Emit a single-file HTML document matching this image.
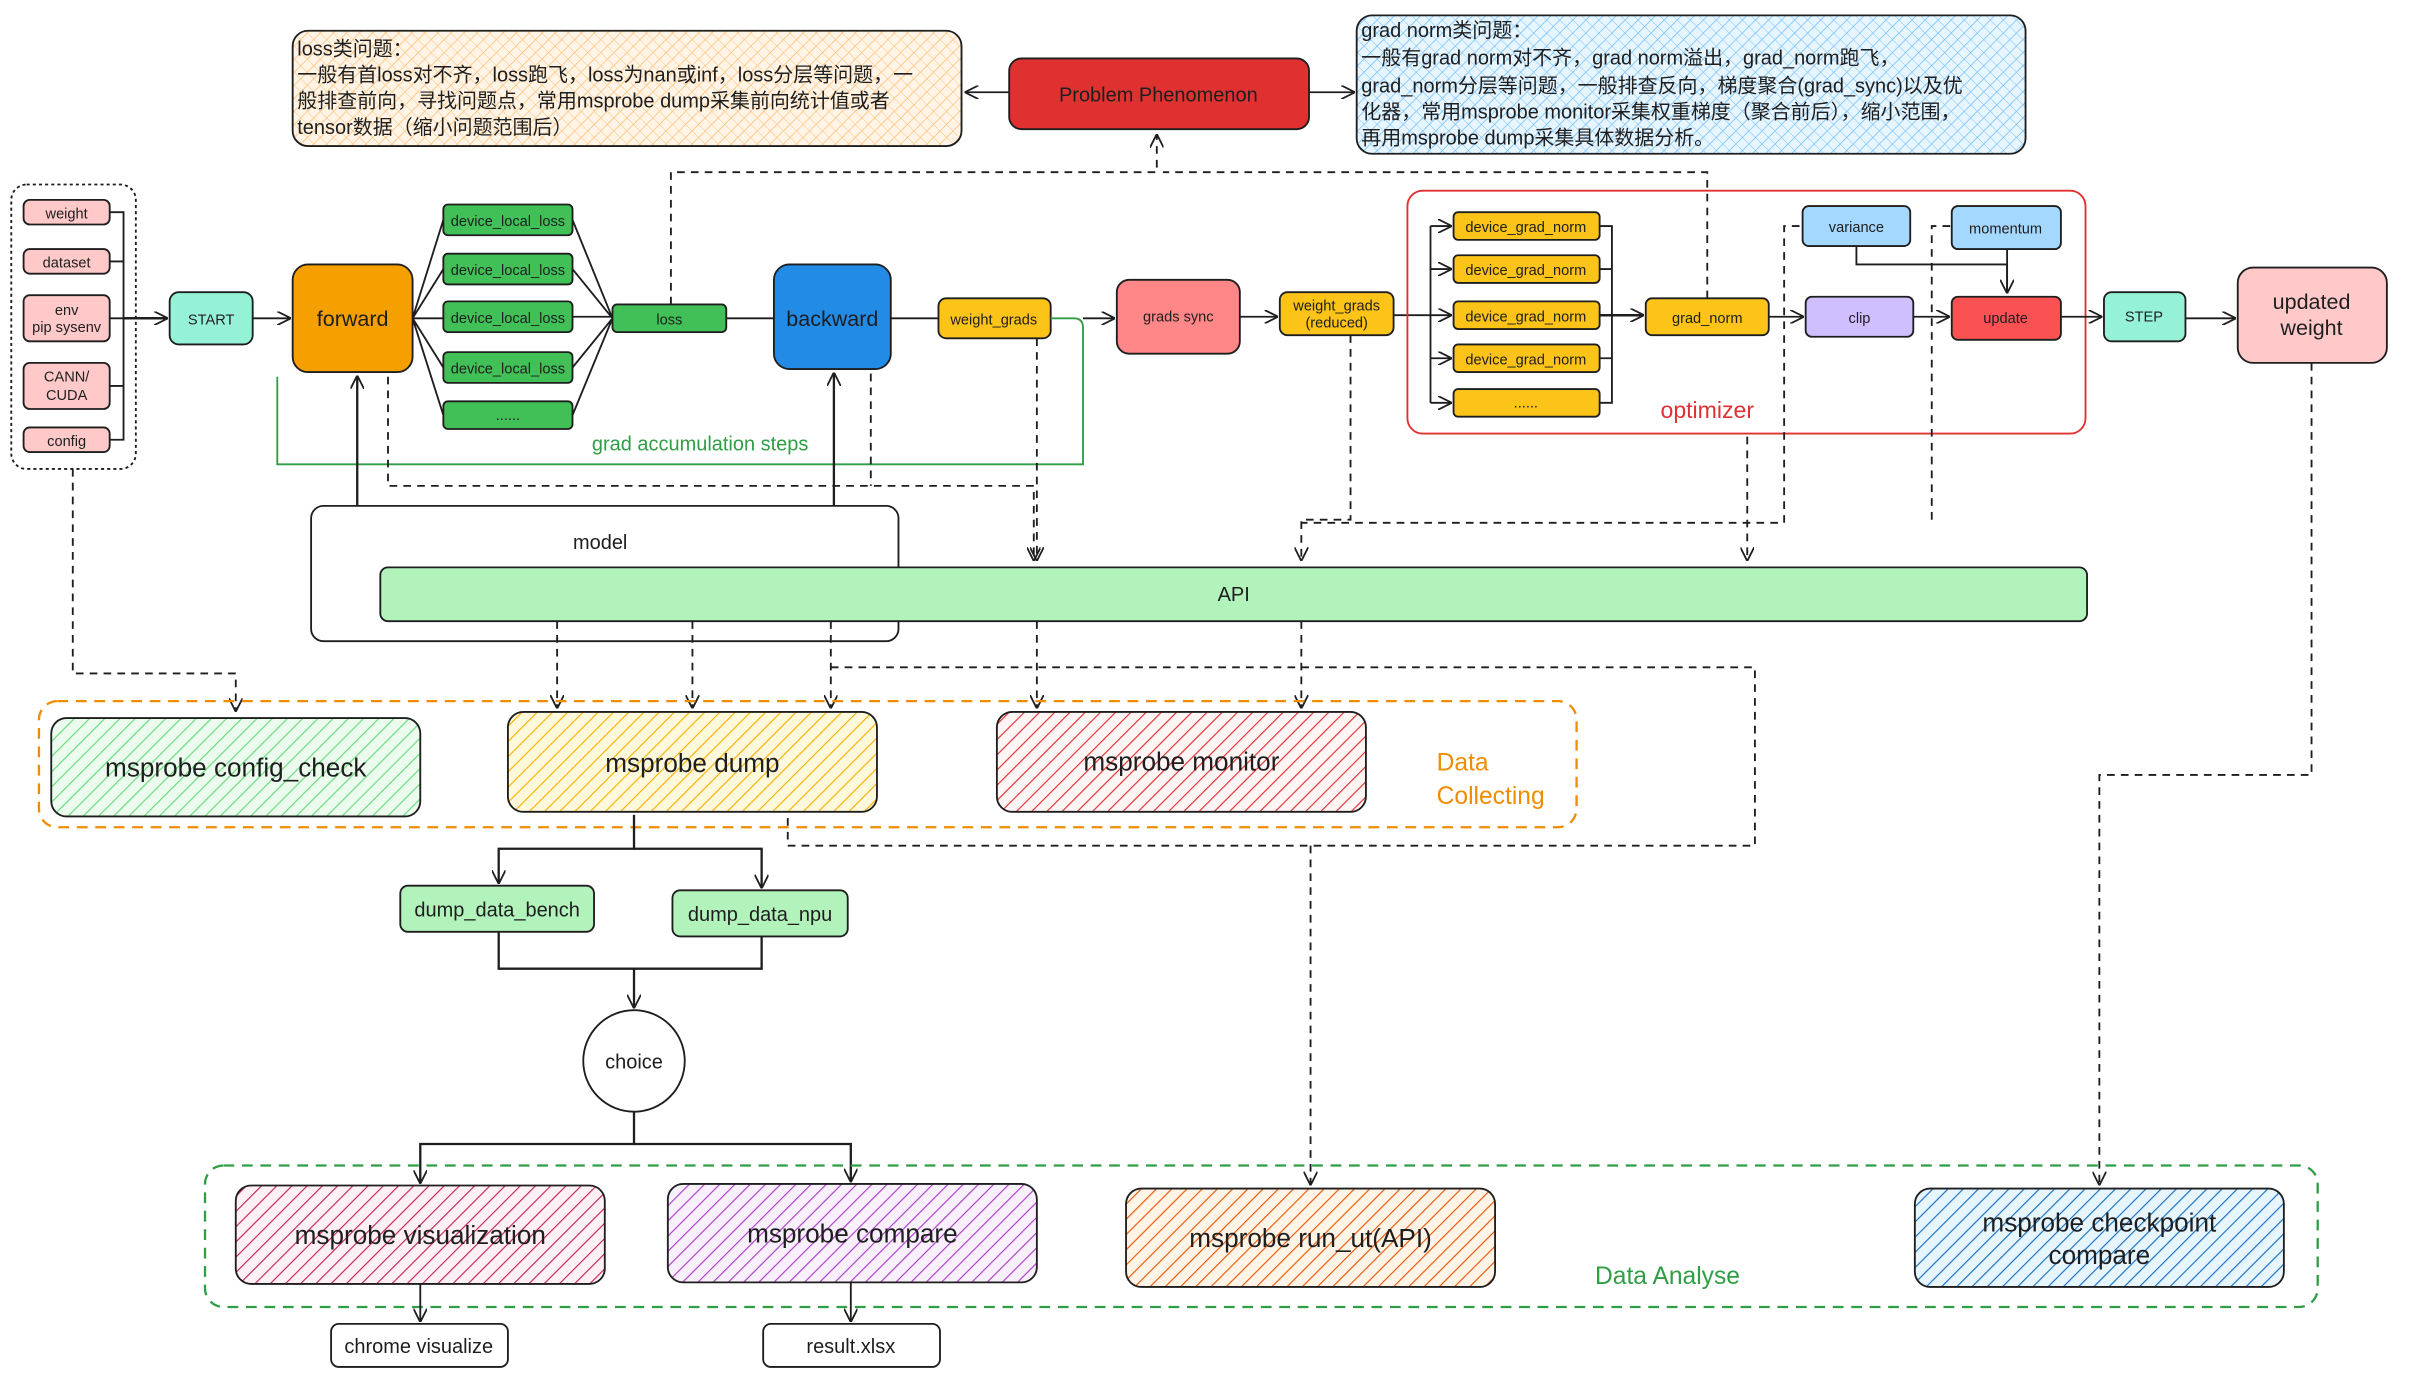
<!DOCTYPE html>
<html><head><meta charset="utf-8"><style>
html,body{margin:0;padding:0;background:#fff}
svg{display:block}
text{font-family:"Liberation Sans","Noto Sans CJK SC",sans-serif;fill:#1e1e1e}
</style></head><body>
<svg width="2412" height="1390" viewBox="0 0 1568 904" xmlns="http://www.w3.org/2000/svg">
<defs>
<pattern id="hOr" width="6" height="6" patternUnits="userSpaceOnUse" patternTransform="rotate(45)"><rect width="6" height="6" fill="#fff4e6"/><line x1="0" y1="0" x2="0" y2="6" stroke="#ffc078" stroke-width="1"/><line x1="0" y1="0" x2="6" y2="0" stroke="#ffc078" stroke-width="0.6"/></pattern>
<pattern id="hBl" width="6" height="6" patternUnits="userSpaceOnUse" patternTransform="rotate(45)"><rect width="6" height="6" fill="#e7f5ff"/><line x1="0" y1="0" x2="0" y2="6" stroke="#74c0fc" stroke-width="1"/><line x1="0" y1="0" x2="6" y2="0" stroke="#74c0fc" stroke-width="0.6"/></pattern>
<pattern id="hG" width="7" height="7" patternUnits="userSpaceOnUse" patternTransform="rotate(45)"><rect width="7" height="7" fill="#ebfbee"/><line x1="0" y1="0" x2="0" y2="7" stroke="#69db7c" stroke-width="1.5"/></pattern>
<pattern id="hY" width="7" height="7" patternUnits="userSpaceOnUse" patternTransform="rotate(45)"><rect width="7" height="7" fill="#fff9db"/><line x1="0" y1="0" x2="0" y2="7" stroke="#fab005" stroke-width="1.5"/></pattern>
<pattern id="hR" width="7" height="7" patternUnits="userSpaceOnUse" patternTransform="rotate(45)"><rect width="7" height="7" fill="#fff5f5"/><line x1="0" y1="0" x2="0" y2="7" stroke="#e03131" stroke-width="1.5"/></pattern>
<pattern id="hP" width="7" height="7" patternUnits="userSpaceOnUse" patternTransform="rotate(45)"><rect width="7" height="7" fill="#fff0f6"/><line x1="0" y1="0" x2="0" y2="7" stroke="#c2255c" stroke-width="1.5"/></pattern>
<pattern id="hV" width="7" height="7" patternUnits="userSpaceOnUse" patternTransform="rotate(45)"><rect width="7" height="7" fill="#f8f0fc"/><line x1="0" y1="0" x2="0" y2="7" stroke="#ae3ec9" stroke-width="1.5"/></pattern>
<pattern id="hO2" width="7" height="7" patternUnits="userSpaceOnUse" patternTransform="rotate(45)"><rect width="7" height="7" fill="#fff4e6"/><line x1="0" y1="0" x2="0" y2="7" stroke="#e8590c" stroke-width="1.5"/></pattern>
<pattern id="hB2" width="7" height="7" patternUnits="userSpaceOnUse" patternTransform="rotate(45)"><rect width="7" height="7" fill="#e7f5ff"/><line x1="0" y1="0" x2="0" y2="7" stroke="#1971c2" stroke-width="1.5"/></pattern>
<marker id="a" viewBox="0 0 10 10" refX="9" refY="5" markerWidth="9" markerHeight="9" orient="auto-start-reverse" markerUnits="userSpaceOnUse"><path d="M0,0 L10,5 L0,10" fill="none" stroke="#1e1e1e" stroke-width="1.3"/></marker>
</defs>
<g stroke="#1e1e1e" stroke-width="1.2" fill="none">
<rect x="190" y="20" width="435" height="75" rx="10" fill="url(#hOr)"/>
<rect x="656" y="38" width="195" height="46" rx="8" fill="#e03131"/>
<rect x="882" y="10" width="435" height="90" rx="10" fill="url(#hBl)"/>
<path d="M656,60 H628" marker-end="url(#a)"/>
<path d="M851,60 H880" marker-end="url(#a)"/>
<rect x="7" y="120" width="81" height="185" rx="10" stroke-dasharray="2 2"/>
<rect x="15" y="130" width="56" height="16" rx="4" fill="#ffc9c9"/>
<rect x="15" y="162" width="56" height="16" rx="4" fill="#ffc9c9"/>
<rect x="15" y="192" width="56" height="30" rx="4" fill="#ffc9c9"/>
<rect x="15" y="236" width="56" height="30" rx="4" fill="#ffc9c9"/>
<rect x="15" y="278" width="56" height="16" rx="4" fill="#ffc9c9"/>
<path d="M71,138 H80 V286 H71 M71,170 H80 M71,207 H80 M71,251 H80"/>
<path d="M80,207 H108" marker-end="url(#a)" stroke-width="1.6"/>
<rect x="110" y="190" width="54" height="34" rx="6" fill="#96f2d7"/>
<path d="M164,207 H188" marker-end="url(#a)"/>
<rect x="190" y="172" width="78" height="70" rx="10" fill="#f59f00"/>
<g fill="#40c057">
<rect x="288" y="133" width="84" height="20" rx="3"/><rect x="288" y="165" width="84" height="20" rx="3"/><rect x="288" y="196" width="84" height="20" rx="3"/><rect x="288" y="229" width="84" height="20" rx="3"/><rect x="288" y="261" width="84" height="18" rx="3"/>
</g>
<path d="M268,207 L288,143 M268,207 L288,175 M268,207 H288 M268,207 L288,239 M268,207 L288,270"/>
<path d="M372,143 L398,207 M372,175 L398,207 M372,206 H398 M372,239 L398,207 M372,270 L398,207"/>
<rect x="398" y="198" width="74" height="18" rx="3" fill="#40c057"/>
<path d="M472,207 H503"/>
<rect x="503" y="172" width="76" height="68" rx="10" fill="#228be6"/>
<path d="M579,207 H610"/>
<rect x="610" y="194" width="73" height="26" rx="5" fill="#fcc419"/>
<path d="M704,207 H724" marker-end="url(#a)"/>
<rect x="726" y="182" width="80" height="48" rx="8" fill="#ff8787"/>
<path d="M806,206 H830" marker-end="url(#a)"/>
<rect x="832" y="190" width="74" height="28" rx="5" fill="#fcc419"/>
<path d="M906,205 H930"/>
<rect x="915" y="124" width="441" height="158" rx="10" stroke="#e03131"/>
<path d="M930,147 V262"/>
<path d="M930,147 H943" marker-end="url(#a)"/>
<path d="M930,175 H943" marker-end="url(#a)"/>
<path d="M930,205 H943" marker-end="url(#a)"/>
<path d="M930,233 H943" marker-end="url(#a)"/>
<path d="M930,262 H943" marker-end="url(#a)"/>
<g fill="#fcc419">
<rect x="945" y="138" width="95" height="18" rx="3"/><rect x="945" y="166" width="95" height="18" rx="3"/><rect x="945" y="196" width="95" height="18" rx="3"/><rect x="945" y="224" width="95" height="18" rx="3"/><rect x="945" y="253" width="95" height="18" rx="3"/>
</g>
<path d="M1040,147 H1048 V262 H1040 M1040,175 H1048 M1040,233 H1048"/>
<path d="M1040,205 H1068" marker-end="url(#a)" stroke-width="1.6"/>
<rect x="1070" y="194" width="80" height="24" rx="4" fill="#fcc419"/>
<path d="M1150,206 H1172" marker-end="url(#a)"/>
<rect x="1172" y="134" width="70" height="26" rx="4" fill="#a5d8ff"/>
<rect x="1269" y="134" width="71" height="28" rx="4" fill="#a5d8ff"/>
<rect x="1174" y="193" width="70" height="26" rx="4" fill="#d0bfff"/>
<path d="M1244,206 H1267" marker-end="url(#a)"/>
<rect x="1269" y="193" width="71" height="28" rx="4" fill="#fa5252"/>
<path d="M1207,160 V172 H1305 V190" marker-end="url(#a)"/>
<path d="M1305,162 V190"/>
<path d="M1340,206 H1366" marker-end="url(#a)"/>
<rect x="1368" y="190" width="53" height="32" rx="5" fill="#96f2d7"/>
<path d="M1421,207 H1453" marker-end="url(#a)"/>
<rect x="1455" y="174" width="97" height="62" rx="10" fill="#ffc9c9"/>
<path d="M683,207 H698 Q704,207 704,213 V302 H180 V245" stroke="#2f9e44"/>
<rect x="202" y="329" width="382" height="88" rx="8" fill="#fff"/>
<rect x="247" y="369" width="1110" height="35" rx="5" fill="#b2f2bb"/>
<path d="M232,329 V245" marker-end="url(#a)" stroke-width="1.5"/>
<path d="M542,329 V243" marker-end="url(#a)" stroke-width="1.5"/>
<g stroke-dasharray="5 4">
<path d="M436,198 V112 H752 V88" marker-end="url(#a)"/>
<path d="M1110,194 V112 H756"/>
<path d="M252,245 V316 H672 V364" marker-end="url(#a)"/>
<path d="M566,243 V316"/>
<path d="M674,220 V364" marker-end="url(#a)"/>
<path d="M878,218 V338 H846 V364" marker-end="url(#a)"/>
<path d="M1170,147 H1160 V340 H846"/>
<path d="M1268,147 H1256 V338"/>
<path d="M1136,284 V364" marker-end="url(#a)"/>
<path d="M1503,236 V504 H1365 V770" marker-end="url(#a)"/>
<path d="M47,305 V438 H153 V462" marker-end="url(#a)"/>
<path d="M362,404 V460" marker-end="url(#a)"/>
<path d="M450,404 V460" marker-end="url(#a)"/>
<path d="M540,404 V460" marker-end="url(#a)"/>
<path d="M674,404 V460" marker-end="url(#a)"/>
<path d="M846,404 V460" marker-end="url(#a)"/>
<path d="M540,434 H1141 V550 H512 V530"/>
<path d="M852,550 V770" marker-end="url(#a)"/>
</g>
<rect x="25" y="456" width="1000" height="82" rx="12" stroke="#f08c00" stroke-dasharray="7 5" stroke-width="1.5"/>
<rect x="33" y="467" width="240" height="64" rx="10" fill="url(#hG)"/>
<rect x="330" y="463" width="240" height="65" rx="10" fill="url(#hY)"/>
<rect x="648" y="463" width="240" height="65" rx="10" fill="url(#hR)"/>
<path d="M412,530 V552 H324 V574" marker-end="url(#a)" stroke-width="1.5"/>
<path d="M412,552 H495 V577" marker-end="url(#a)" stroke-width="1.5"/>
<rect x="260" y="576" width="126" height="30" rx="5" fill="#b2f2bb"/>
<rect x="437" y="579" width="114" height="30" rx="5" fill="#b2f2bb"/>
<path d="M324,606 V630 H495 V609" stroke-width="1.5"/>
<path d="M412,630 V655" marker-end="url(#a)" stroke-width="1.5"/>
<circle cx="412" cy="690" r="33" fill="#fff"/>
<path d="M412,723 V744 H273 V769" marker-end="url(#a)" stroke-width="1.5"/>
<path d="M412,744 H553 V768" marker-end="url(#a)" stroke-width="1.5"/>
<rect x="133" y="758" width="1374" height="92" rx="12" stroke="#2f9e44" stroke-dasharray="7 5" stroke-width="1.5"/>
<rect x="153" y="771" width="240" height="64" rx="10" fill="url(#hP)"/>
<rect x="434" y="770" width="240" height="64" rx="10" fill="url(#hV)"/>
<rect x="732" y="773" width="240" height="64" rx="10" fill="url(#hO2)"/>
<rect x="1245" y="773" width="240" height="64" rx="10" fill="url(#hB2)"/>
<path d="M273,835 V859" marker-end="url(#a)"/>
<path d="M553,834 V859" marker-end="url(#a)"/>
<rect x="215" y="861" width="115" height="28" rx="5" fill="#fff"/>
<rect x="496" y="861" width="115" height="28" rx="5" fill="#fff"/>
</g>
<g font-size="13">
<text x="193" y="36">loss类问题：</text>
<text x="193" y="53">一般有首loss对不齐，loss跑飞，loss为nan或inf，loss分层等问题，一</text>
<text x="193" y="70">般排查前向，寻找问题点，常用msprobe dump采集前向统计值或者</text>
<text x="193" y="87">tensor数据（缩小问题范围后）</text>
<text x="885" y="24">grad norm类问题：</text>
<text x="885" y="42">一般有grad norm对不齐，grad norm溢出，grad_norm跑飞，</text>
<text x="885" y="60">grad_norm分层等问题，一般排查反向，梯度聚合(grad_sync)以及优</text>
<text x="885" y="77">化器，常用msprobe monitor采集权重梯度（聚合前后），缩小范围，</text>
<text x="885" y="94">再用msprobe dump采集具体数据分析。</text>
</g>
<g text-anchor="middle">
<text x="753" y="66" font-size="13">Problem Phenomenon</text>
<g font-size="9.5">
<text x="43" y="142">weight</text><text x="43" y="174">dataset</text>
<text x="43" y="205">env</text><text x="43" y="216">pip sysenv</text>
<text x="43" y="248">CANN/</text><text x="43" y="260">CUDA</text>
<text x="43" y="290">config</text>
<text x="137" y="211">START</text>
<text x="330" y="147">device_local_loss</text><text x="330" y="179">device_local_loss</text><text x="330" y="210">device_local_loss</text><text x="330" y="243">device_local_loss</text><text x="330" y="273">......</text>
<text x="435" y="211">loss</text>
<text x="646" y="211">weight_grads</text>
<text x="766" y="209">grads sync</text>
<text x="869" y="202">weight_grads</text><text x="869" y="213">(reduced)</text>
<text x="992" y="151">device_grad_norm</text><text x="992" y="179">device_grad_norm</text><text x="992" y="209">device_grad_norm</text><text x="992" y="237">device_grad_norm</text><text x="992" y="265">......</text>
<text x="1110" y="210">grad_norm</text>
<text x="1207" y="151">variance</text><text x="1304" y="152">momentum</text>
<text x="1209" y="210">clip</text><text x="1304" y="210">update</text>
<text x="1394" y="209">STEP</text>
</g>
<text x="229" y="212" font-size="14">forward</text>
<text x="541" y="212" font-size="14">backward</text>
<text x="1503" y="201" font-size="14">updated</text><text x="1503" y="218" font-size="14">weight</text>
<text x="1110" y="272" font-size="15" style="fill:#e03131">optimizer</text>
<text x="455" y="293" font-size="13" style="fill:#2f9e44">grad accumulation steps</text>
<text x="390" y="357" font-size="13">model</text>
<text x="802" y="391" font-size="13">API</text>
<text x="153" y="505" font-size="17">msprobe config_check</text>
<text x="450" y="502" font-size="17">msprobe dump</text>
<text x="768" y="501" font-size="17">msprobe monitor</text>
<text x="323" y="596" font-size="13">dump_data_bench</text>
<text x="494" y="599" font-size="13">dump_data_npu</text>
<text x="412" y="695" font-size="13">choice</text>
<text x="273" y="809" font-size="17">msprobe visualization</text>
<text x="554" y="808" font-size="17">msprobe compare</text>
<text x="852" y="811" font-size="17">msprobe run_ut(API)</text>
<text x="1365" y="801" font-size="17">msprobe checkpoint</text><text x="1365" y="822" font-size="17">compare</text>
<text x="272" y="880" font-size="13">chrome visualize</text>
<text x="553" y="880" font-size="13">result.xlsx</text>
</g>
<text x="934" y="501" font-size="16" style="fill:#f08c00">Data</text>
<text x="934" y="523" font-size="16" style="fill:#f08c00">Collecting</text>
<text x="1037" y="835" font-size="16" style="fill:#2f9e44">Data Analyse</text>
</svg>
</body></html>
